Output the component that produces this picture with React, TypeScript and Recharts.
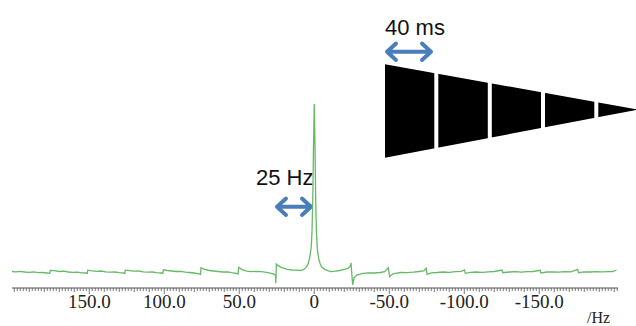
import React from 'react';
import { LineChart, Line, XAxis, YAxis, Customized } from 'recharts';

const hz: number[] = [
  201.5, 199, 196, 193, 190, 187, 184, 181, 178, 176.3, 176, 173, 170, 167, 164, 161, 158, 155, 152, 151.3,
  151, 148, 145, 142, 139, 136, 133, 130, 127, 126.3, 126, 123, 120, 117, 114, 111, 108, 105, 102, 101,
  100.6, 98, 95, 92, 89, 86, 83, 80, 77, 75.8, 75.5, 73, 70, 67, 64, 61, 58, 55, 52, 50.8,
  50.4, 48, 45, 42, 38, 34, 30, 27, 25.9, 25.6, 25.3, 24, 22, 20, 18, 15, 12, 9, 7, 5,
  4, 3, 2, 1.5, 1, 0.5, 0, -0.5, -1, -1.5, -2, -3, -4, -5, -7, -9, -11, -14, -17, -20,
  -22.5, -24.2, -24.5, -25.6, -26.5, -28.3, -32.5, -36, -40, -44, -47, -49.4, -50.2, -52, -54, -58, -62, -66, -70, -73,
  -74.6, -75.2, -78, -82, -86, -90, -94, -98, -100.2, -100.7, -104, -108, -112, -116, -120, -125.2, -125.7, -130, -134, -138,
  -142, -146, -150.6, -151.1, -155, -159, -163, -167, -171, -175.6, -176.2, -180, -184, -188, -192, -196, -199, -201.5,
];

const intensity: number[] = [
  0.3, 0.1, 0.4, 0.0, -0.2, 0.1, -0.4, -0.3, -0.6, -0.8, 1.0, 0.8, 0.3, 0.5, 0.0, -0.2, -0.1, -0.5, -0.6, -0.8,
  1.1, 0.7, 0.4, 0.6, 0.1, -0.1, 0.0, -0.4, -0.6, -0.8, 1.1, 0.8, 0.5, 0.6, 0.1, -0.1, 0.0, -0.4, -0.6, -0.8,
  1.3, 0.9, 0.6, 0.3, 0.4, -0.1, -0.3, -0.6, -1.1, -1.4, 2.6, 1.6, 0.9, 0.6, 0.3, 0.0, 0.1, -0.4, -0.8, -1.2,
  2.8, 1.4, 0.5, 0.2, 0.4, 0.1, -0.5, -1.3, -1.8, -6.7, 4.8, 3.8, 2.8, 2.1, 1.6, 1.2, 1.1, 0.9, 1.5, 3.2,
  5.0, 8.5, 15, 24, 42, 75, 100, 74, 41, 23, 14, 7.8, 4.8, 3.0, 1.6, 0.8, 0.3, 0.5, 0.9, 1.5,
  2.2, 3.6, 5.5, -7.7, -3.5, -1.8, -0.8, -0.5, -0.6, -0.3, 0.2, 2.6, -2.8, -1.4, -0.8, -0.3, -0.4, -0.1, 0.3, 0.6,
  2.2, -1.4, -0.5, -0.3, 0.0, -0.2, 0.2, 0.4, 1.2, -0.8, -0.2, 0.0, -0.2, 0.1, 0.3, 1.2, -0.4, 0.0, 0.2, -0.1,
  0.2, 0.3, 1.0, -0.6, 0.0, 0.1, -0.1, 0.2, 0.1, 1.6, -0.4, 0.1, 0.0, 0.2, 0.1, 0.2, 0.3, 1.2,
];

const majorTicks: number[] = [150, 100, 50, 0, -50, -100, -150];
const majorLabels: string[] = ['150.0', '100.0', '50.0', '0', '-50.0', '-100.0', '-150.0'];

const data = hz.map((h, i) => ({ hz: h, v: intensity[i] }));

const allTicks: number[] = [];
for (let t = -202; t <= 200; t += 2) allTicks.push(t);

const AxisTick = (props: any) => {
  const { x, y, payload } = props;
  const val = payload.value as number;
  const mi = majorTicks.indexOf(val);
  const isMajor = mi >= 0;
  const isMid = val % 10 === 0;
  const len = isMajor ? 6 : isMid ? 4 : 3;
  return (
    <g>
      <line x1={x} x2={x} y1={y} y2={y + len} stroke="#555" strokeWidth={0.8} />
      {isMajor && (
        <text
          x={x}
          y={y + 20}
          textAnchor="middle"
          fontFamily="'Liberation Serif', serif"
          fontSize={19}
          fill="#222"
        >
          {majorLabels[mi]}
        </text>
      )}
    </g>
  );
};

const blue = '#4a7ebb';

const Overlay = () => (
  <g>
    {/* 25 Hz annotation */}
    <text x={256} y={185} fontFamily="'Liberation Sans', Arial, sans-serif" fontSize={22} fill="#111">
      25 Hz
    </text>
    <path
      d="M277 206.7 L311 206.7 M286 198.5 L277 206.7 L286 214.9 M302 198.5 L311 206.7 L302 214.9"
      stroke={blue}
      strokeWidth={4}
      fill="none"
      strokeLinecap="round"
      strokeLinejoin="round"
    />
    {/* 40 ms annotation */}
    <text x={385} y={35} fontFamily="'Liberation Sans', Arial, sans-serif" fontSize={22} fill="#111">
      40 ms
    </text>
    <path
      d="M387 51.7 L431 51.7 M396 43.5 L387 51.7 L396 59.9 M422 43.5 L431 51.7 L422 59.9"
      stroke={blue}
      strokeWidth={4}
      fill="none"
      strokeLinecap="round"
      strokeLinejoin="round"
    />
    {/* decaying FID envelope */}
    <polygon points="385,64.3 638,109.5 385,157.7" fill="#000" />
    <rect x={434.3} y={58} width={4} height={106} fill="#fff" />
    <rect x={487.8} y={58} width={4} height={106} fill="#fff" />
    <rect x={541} y={58} width={4} height={106} fill="#fff" />
    <rect x={594.3} y={58} width={4} height={106} fill="#fff" />
    {/* unit label */}
    <text x={587} y={323} fontFamily="'Liberation Serif', serif" fontSize={16} fill="#222">
      /Hz
    </text>
  </g>
);

export default function App() {
  return (
    <div style={{ position: 'absolute', left: 0, top: 0, width: 636, height: 326, background: '#fff' }}>
      <LineChart width={636} height={326} data={data} margin={{ top: 0, right: 18, bottom: 0, left: 12 }}>
        <XAxis
          type="number"
          dataKey="hz"
          domain={[-202.5, 201.5]}
          reversed
          allowDataOverflow
          ticks={allTicks}
          interval={0}
          tick={<AxisTick />}
          tickLine={false}
          tickSize={0}
          tickMargin={0}
          height={38}
          stroke="#555"
        />
        <YAxis hide domain={[-9.52, 161.9]} allowDataOverflow />
        <Line
          type="linear"
          dataKey="v"
          stroke="#66b966"
          strokeWidth={1.3}
          dot={false}
          isAnimationActive={false}
        />
        <Customized component={Overlay} />
      </LineChart>
    </div>
  );
}
